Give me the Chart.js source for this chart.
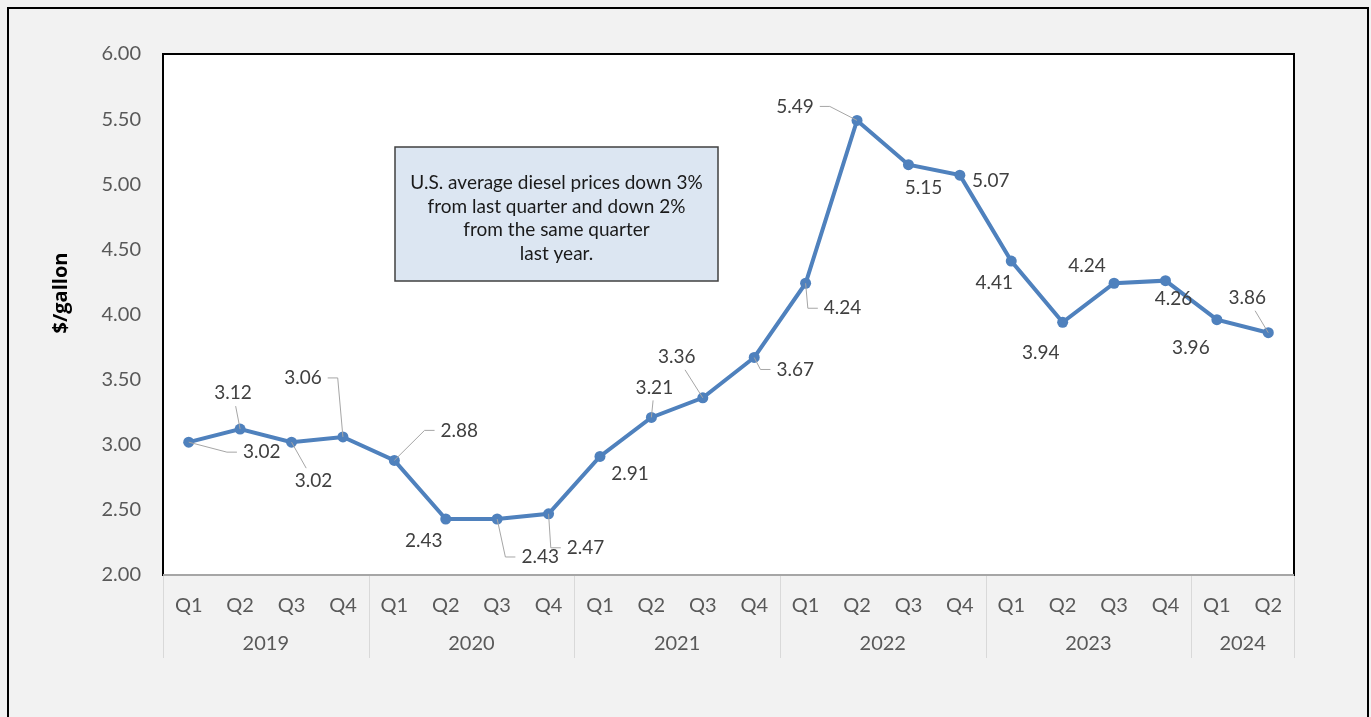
<!DOCTYPE html>
<html>
<head>
<meta charset="utf-8">
<script src="https://cdn.jsdelivr.net/npm/chart.js@4.4.1/dist/chart.umd.min.js"></script>
<style>
html, body { margin: 0; padding: 0; background: #fff; }
#wrap { width: 1371px; height: 717px; }
</style>
</head>
<body>
<div id="wrap"><canvas id="c" width="1371" height="717"></canvas></div>
<script>
// Données
const quarters = ['Q1','Q2','Q3','Q4','Q1','Q2','Q3','Q4','Q1','Q2','Q3','Q4',
                  'Q1','Q2','Q3','Q4','Q1','Q2','Q3','Q4','Q1','Q2'];
const years = ['2019', '2020', '2021', '2022', '2023', '2024'];
const quartersInYear = [4, 4, 4, 4, 4, 2];
const dieselPrices = [3.02, 3.12, 3.02, 3.06, 2.88, 2.43, 2.43, 2.47, 2.91, 3.21, 3.36,
                      3.67, 4.24, 5.49, 5.15, 5.07, 4.41, 3.94, 4.24, 4.26, 3.96, 3.86];
const yMin = 2, yMax = 6, yStep = 0.5;
const yTitle = '$/gallon';
const noteLines = ['U.S. average diesel prices down 3%', 'from last quarter and down 2%',
                   'from the same quarter', 'last year.'];

// Placement des étiquettes (décalage par rapport au point, type de ligne de repère)
const labelPlacement = [
  [73, 10, 'elbow'], [-7, -36, 'line'], [22, 39, 'line'], [-40, -59, 'elbow'],
  [65, -30, 'elbow'], [-22, 22, ''], [43, 38, 'elbow'], [37, 34, 'elbow'],
  [30, 17, ''], [3, -30, 'line'], [-26, -41, 'line'], [41, 12, 'elbow'],
  [37, 25, 'elbow'], [-62, -14, 'elbow'], [15, 23, ''], [31, 6, ''],
  [-17, 22, ''], [-22, 31, ''], [-27, -17, ''], [8, 18, ''], [-26, 28, ''], [-21, -35, 'line']
];
const noteBox = { x: 395, y: 147, w: 323, h: 134 };

const FONT = 'Lato, "Open Sans", sans-serif';
const lineColor = '#4f81bd';

// Fond, cadre et zone de tracé
const framePlugin = {
  id: 'frame',
  beforeDraw(chart) {
    const ctx = chart.ctx, a = chart.chartArea;
    ctx.save();
    ctx.fillStyle = '#f2f2f2';
    ctx.fillRect(0, 0, chart.width, chart.height);
    ctx.strokeStyle = '#000';
    ctx.lineWidth = 2;
    ctx.strokeRect(8, 8, 1360, 760);
    ctx.fillStyle = '#fff';
    ctx.fillRect(a.left, a.top, a.right - a.left, a.bottom - a.top);

    // Titre de l'axe Y
    ctx.translate(61, 293);
    ctx.rotate(-Math.PI / 2);
    ctx.fillStyle = '#000';
    ctx.font = 'bold 20px "Open Sans", sans-serif';
    ctx.textAlign = 'center';
    ctx.textBaseline = 'middle';
    ctx.fillText(yTitle, 0, 0);
    ctx.restore();
  },
  beforeDatasetsDraw(chart) {
    const ctx = chart.ctx, a = chart.chartArea;
    ctx.save();
    ctx.strokeStyle = '#000';
    ctx.lineWidth = 2;
    ctx.strokeRect(a.left, a.top, a.right - a.left, a.bottom - a.top);
    ctx.strokeStyle = '#a6a6a6';
    ctx.beginPath();
    ctx.moveTo(a.left, a.bottom);
    ctx.lineTo(a.right, a.bottom);
    ctx.stroke();

    // Boîte de commentaire
    ctx.fillStyle = '#dce6f2';
    ctx.fillRect(noteBox.x, noteBox.y, noteBox.w, noteBox.h);
    ctx.strokeStyle = '#404040';
    ctx.lineWidth = 1.5;
    ctx.strokeRect(noteBox.x, noteBox.y, noteBox.w, noteBox.h);
    ctx.fillStyle = '#1a1a1a';
    ctx.font = '19px ' + FONT;
    ctx.textAlign = 'center';
    ctx.textBaseline = 'middle';
    noteLines.forEach((t, i) => {
      ctx.fillText(t, noteBox.x + noteBox.w / 2, 183 + i * 23.5);
    });
    ctx.restore();
  }
};

// Étiquettes de données avec lignes de repère
const labelsPlugin = {
  id: 'valueLabels',
  afterDatasetsDraw(chart) {
    const ctx = chart.ctx;
    const meta = chart.getDatasetMeta(0);
    ctx.save();
    ctx.font = '19px ' + FONT;
    ctx.textAlign = 'center';
    ctx.textBaseline = 'middle';
    meta.data.forEach((pt, i) => {
      const [dx, dy, leader] = labelPlacement[i];
      const text = dieselPrices[i].toFixed(2);
      const cx = pt.x + dx, cy = pt.y + dy;
      const hw = ctx.measureText(text).width / 2, hh = 9;
      ctx.strokeStyle = '#a6a6a6';
      ctx.lineWidth = 1;
      if (leader === 'elbow') {
        const side = dx > 0 ? 1 : -1;
        const edgeX = cx - side * (hw + 6);
        const elbowX = edgeX - side * 10;
        ctx.beginPath();
        ctx.moveTo(pt.x, pt.y);
        ctx.lineTo(elbowX, cy);
        ctx.lineTo(edgeX, cy);
        ctx.stroke();
      } else if (leader === 'line') {
        const s = Math.min((hw + 4) / Math.abs(dx || 0.001), (hh + 4) / Math.abs(dy || 0.001));
        ctx.beginPath();
        ctx.moveTo(pt.x, pt.y);
        ctx.lineTo(pt.x + dx * (1 - s), pt.y + dy * (1 - s));
        ctx.stroke();
      }
      ctx.fillStyle = '#404040';
      ctx.fillText(text, cx, cy);
    });
    ctx.restore();
  }
};

// Années et séparateurs sous l'axe X
const yearsPlugin = {
  id: 'years',
  afterDraw(chart) {
    const ctx = chart.ctx, a = chart.chartArea;
    const x = chart.scales.x;
    const step = (a.right - a.left) / quarters.length;
    ctx.save();
    ctx.strokeStyle = '#d9d9d9';
    ctx.lineWidth = 1;
    ctx.fillStyle = '#595959';
    ctx.font = '20px ' + FONT;
    ctx.textAlign = 'center';
    ctx.textBaseline = 'middle';
    let start = 0;
    const sep = (k) => {
      const px = Math.round(a.left + k * step) + 0.5;
      ctx.beginPath();
      ctx.moveTo(px, a.bottom + 1);
      ctx.lineTo(px, 658);
      ctx.stroke();
    };
    sep(0);
    years.forEach((y, i) => {
      const end = start + quartersInYear[i];
      sep(end);
      const mid = (x.getPixelForValue(start) + x.getPixelForValue(end - 1)) / 2;
      ctx.fillText(y, mid, 644);
      start = end;
    });
    ctx.restore();
  }
};

new Chart(document.getElementById('c'), {
  type: 'line',
  data: {
    labels: quarters,
    datasets: [{
      data: dieselPrices,
      borderColor: lineColor,
      backgroundColor: lineColor,
      borderWidth: 4,
      pointRadius: 5.5,
      pointBackgroundColor: lineColor,
      pointBorderWidth: 0,
      tension: 0
    }]
  },
  options: {
    responsive: false,
    animation: false,
    layout: { padding: { top: 54, right: 77, bottom: 42, left: 0 } },
    plugins: { legend: { display: false }, tooltip: { enabled: false } },
    scales: {
      x: {
        offset: true,
        grid: { display: false },
        border: { display: false },
        ticks: { color: '#595959', font: { family: FONT, size: 20 }, padding: 11,
                 maxRotation: 0, autoSkip: false },
        afterFit(s) { s.height = 100; }
      },
      y: {
        min: yMin, max: yMax,
        grid: { display: false, drawTicks: false },
        border: { display: false },
        ticks: { stepSize: yStep, color: '#595959', font: { family: FONT, size: 20 }, padding: 22,
                 callback: v => v.toFixed(2) },
        afterFit(s) { s.width = 163; }
      }
    }
  },
  plugins: [framePlugin, labelsPlugin, yearsPlugin]
});
</script>
</body>
</html>
